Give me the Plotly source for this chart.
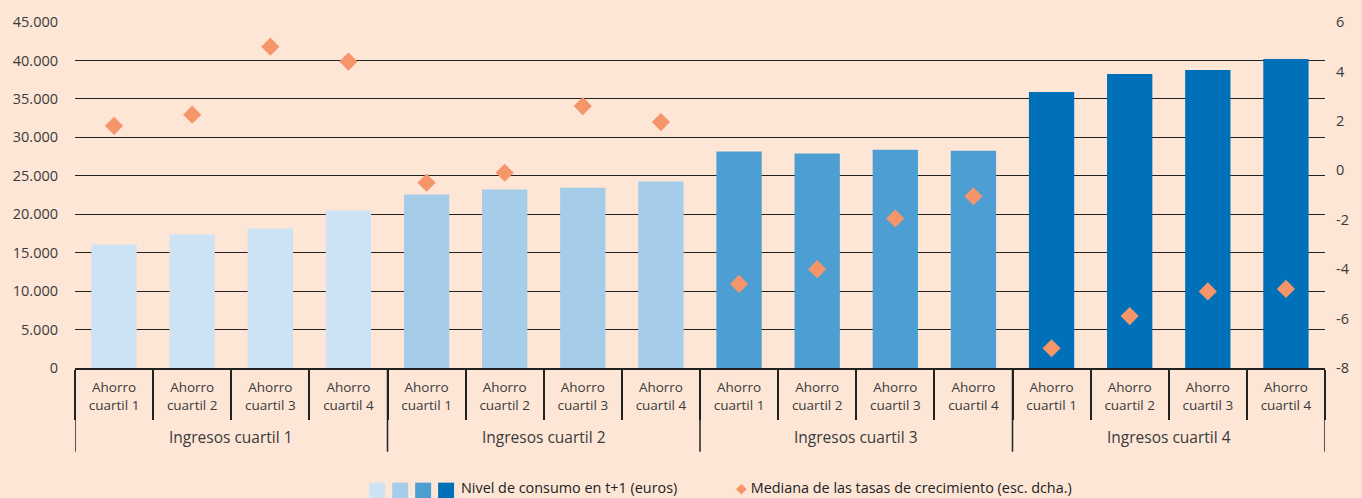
import plotly.graph_objects as go

groups = ["Ingresos cuartil 1", "Ingresos cuartil 2", "Ingresos cuartil 3", "Ingresos cuartil 4"]
subs = ["Ahorro<br>cuartil 1", "Ahorro<br>cuartil 2", "Ahorro<br>cuartil 3", "Ahorro<br>cuartil 4"]

consumo = [
    [16050, 17400, 18150, 20500],
    [22550, 23200, 23450, 24250],
    [28150, 27900, 28400, 28250],
    [35900, 38250, 38750, 40200],
]
mediana = [
    [1.8, 2.25, 5.0, 4.4],
    [-0.5, -0.1, 2.6, 1.95],
    [-4.6, -4.0, -1.95, -1.05],
    [-7.2, -5.9, -4.9, -4.8],
]
left_ticks = [0, 5000, 10000, 15000, 20000, 25000, 30000, 35000, 40000, 45000]
right_ticks = [-8, -6, -4, -2, 0, 2, 4, 6]
right_labels = [str(v) for v in right_ticks]

bar_colors = ["#cde3f3", "#a5cde9", "#4d9fd3", "#0070b8"]
diamond_color = "#f4956a"
bg = "#fde6d6"
txt = "#3a3a3a"
axc = "#222222"

xpos, xlab, yb, yd, cols = [], [], [], [], []
idx = 0
for gi, g in enumerate(groups):
    for si, s in enumerate(subs):
        xpos.append(idx)
        xlab.append(s)
        yb.append(consumo[gi][si])
        yd.append(mediana[gi][si])
        cols.append(bar_colors[gi])
        idx += 1
n = len(xpos)
ns = len(subs)

fig = go.Figure()
fig.add_trace(go.Bar(x=xpos, y=yb, width=0.58, marker=dict(color=cols, line=dict(width=0)),
                     showlegend=False, name="Nivel de consumo en t+1 (euros)"))
fig.add_trace(go.Scatter(x=xpos, y=yd, mode="markers", yaxis="y2",
                         marker=dict(symbol="diamond", size=14, color=diamond_color),
                         showlegend=False, name="Mediana de las tasas de crecimiento (esc. dcha.)"))

fig.update_layout(
    width=1362, height=498,
    margin=dict(l=75, r=34, t=21, b=130),
    paper_bgcolor=bg, plot_bgcolor=bg,
    separators=",.",
    font=dict(family="Open Sans", size=14, color=txt),
    xaxis=dict(range=[-0.5, n - 0.5], tickvals=xpos, ticktext=xlab, ticks="",
               ticklabelstandoff=6,
               showline=True, linecolor=axc, linewidth=1.5, showgrid=False, zeroline=False,
               tickfont=dict(size=13.5, color=txt),
               minor=dict(tickvals=[i - 0.5 for i in range(n + 1)], ticks="outside",
                          ticklen=50, tickcolor=axc, tickwidth=1.5, showgrid=False)),
    yaxis=dict(range=[0, 45000], tickvals=left_ticks, tickformat=",d", showgrid=True,
               gridcolor=axc, gridwidth=1, zeroline=False, ticks="",
               ticklabelstandoff=16,
               tickfont=dict(size=14.5, color=txt), showline=False),
    yaxis2=dict(range=[-8, 6], overlaying="y", side="right", tickvals=right_ticks,
                ticktext=right_labels, showgrid=False, zeroline=False, ticks="",
                ticklabelstandoff=10,
                tickfont=dict(size=14.5, color=txt)),
)

# group dividers and group labels
for gi in range(len(groups) + 1):
    xb = gi * ns - 0.5
    fig.add_shape(type="line", xref="x", yref="paper", x0=xb, x1=xb, y0=0, y1=-0.242,
                  line=dict(color=axc, width=1.5))
for gi, g in enumerate(groups):
    fig.add_annotation(xref="x", yref="paper", x=gi * ns + (ns - 1) / 2, y=-0.199,
                       text=g, showarrow=False, yanchor="middle",
                       font=dict(size=15.5, color=txt))

# legend (drawn manually)
sq_x0, sq_step, sq_w = 0.2354, 0.01836, 0.01277
for i, c in enumerate(bar_colors):
    fig.add_shape(type="rect", xref="paper", yref="paper",
                  x0=sq_x0 + i * sq_step, x1=sq_x0 + i * sq_step + sq_w,
                  y0=-0.3775, y1=-0.3314, line=dict(width=0), fillcolor=c)
fig.add_annotation(xref="paper", yref="paper", x=0.3073, y=-0.346, xanchor="left", yanchor="middle",
                   showarrow=False, text="Nivel de consumo en t+1 (euros)",
                   font=dict(size=14.4, color="#222"))
fig.add_annotation(xref="paper", yref="paper", x=0.5273, y=-0.346, xanchor="left", yanchor="middle",
                   showarrow=False,
                   text=f'<span style="color:{diamond_color}">◆</span> Mediana de las tasas de crecimiento (esc. dcha.)',
                   font=dict(size=14.4, color="#222"))

fig.write_html("out.html")
